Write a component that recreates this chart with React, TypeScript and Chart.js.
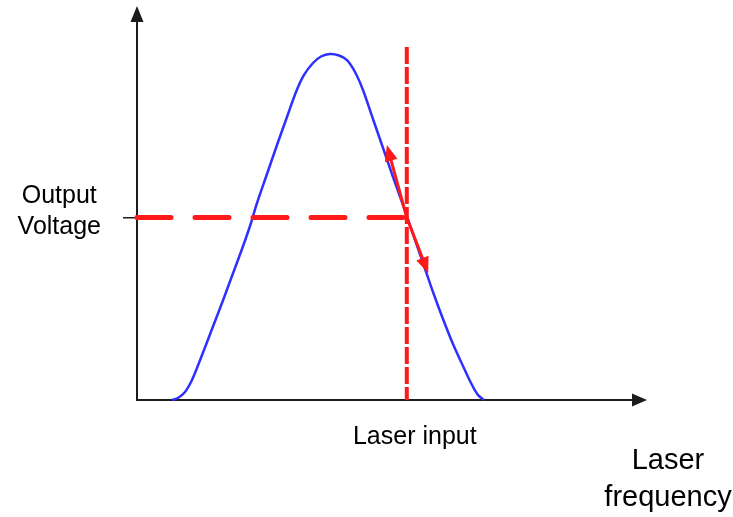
import { useEffect, useRef } from 'react';
import { Chart, registerables } from 'chart.js';

Chart.register(...registerables);

// Transfer curve of the detector: output voltage vs. laser frequency (arbitrary units, 0–100)
const curveX = [
  6.86, 8.04, 9.41, 10.59, 11.76, 13.14, 14.71, 16.67, 18.63, 20.59, 22.16, 23.53, 25.49, 27.45, 29.41,
  31.18, 32.75, 34.51, 36.08, 37.84, 39.61, 41.18, 42.75, 44.31, 46.27, 48.24, 50.2, 52.16, 54.12, 56.08,
  58.04, 60.0, 61.96, 63.92, 65.49, 66.86, 68.04,
];
const curveY = [
  0, 0.51, 2.03, 4.57, 8.12, 12.69, 18.02, 24.62, 31.47, 38.32, 44.16, 50.0, 57.36, 64.72, 71.83,
  78.17, 82.49, 85.53, 87.18, 87.82, 87.44, 86.29, 83.25, 78.68, 71.32, 63.96, 56.6, 49.49, 42.13, 34.77,
  27.41, 20.56, 14.21, 8.63, 4.31, 1.27, 0,
];

// Operating point
const laserInput = 52.9;
const outputVoltage = 46.3;
const markerTop = 89.6;

// Tips of the slope arrows around the operating point
const arrowTipX = [49.0, 57.1];
const arrowTipY = [64.7, 32.2];

const yTickLabel = ['Output', 'Voltage'];
const xTickLabel = 'Laser input';
const xAxisTitle = ['Laser', 'frequency'];

const FONT = "'Liberation Sans', Arial, Helvetica, sans-serif";
const AXIS = '#1c1c1c';
const RED = '#ff1a1a';
const BLUE = '#2f2fff';

const arrowAxes = {
  id: 'arrowAxes',
  beforeDatasetsDraw(chart: any) {
    const { ctx, scales } = chart;
    const x = scales.x;
    const y = scales.y;
    const x0 = x.getPixelForValue(0);
    const y0 = y.getPixelForValue(0);
    const xEnd = x.getPixelForValue(x.max);
    const yEnd = y.getPixelForValue(y.max);
    ctx.save();
    ctx.strokeStyle = AXIS;
    ctx.fillStyle = AXIS;
    ctx.lineWidth = 2;
    ctx.beginPath();
    ctx.moveTo(x0, y0);
    ctx.lineTo(xEnd - 12, y0);
    ctx.moveTo(x0, y0 + 1);
    ctx.lineTo(x0, yEnd + 14);
    ctx.stroke();
    ctx.beginPath();
    ctx.moveTo(xEnd, y0);
    ctx.lineTo(xEnd - 15, y0 - 6.5);
    ctx.lineTo(xEnd - 15, y0 + 6.5);
    ctx.closePath();
    ctx.fill();
    ctx.beginPath();
    ctx.moveTo(x0, yEnd);
    ctx.lineTo(x0 - 6.5, yEnd + 16);
    ctx.lineTo(x0 + 6.5, yEnd + 16);
    ctx.closePath();
    ctx.fill();
    ctx.restore();
  },
  afterDatasetsDraw(chart: any) {
    const { ctx, scales } = chart;
    const x = scales.x;
    const y = scales.y;
    const px = x.getPixelForValue(laserInput);
    const py = y.getPixelForValue(outputVoltage);
    ctx.save();
    ctx.strokeStyle = RED;
    ctx.fillStyle = RED;
    ctx.lineWidth = 3;
    for (let i = 0; i < arrowTipX.length; i++) {
      const tx = x.getPixelForValue(arrowTipX[i]);
      const ty = y.getPixelForValue(arrowTipY[i]);
      const dx = tx - px;
      const dy = ty - py;
      const len = Math.hypot(dx, dy);
      const ux = dx / len;
      const uy = dy / len;
      const head = 16;
      const half = 6.5;
      const bx = tx - ux * head;
      const by = ty - uy * head;
      ctx.beginPath();
      ctx.moveTo(px, py);
      ctx.lineTo(bx + ux * 2, by + uy * 2);
      ctx.stroke();
      ctx.beginPath();
      ctx.moveTo(tx, ty);
      ctx.lineTo(bx - uy * half, by + ux * half);
      ctx.lineTo(bx + uy * half, by - ux * half);
      ctx.closePath();
      ctx.fill();
    }
    ctx.restore();
  },
  afterDraw(chart: any) {
    const { ctx, chartArea } = chart;
    ctx.save();
    ctx.fillStyle = '#000';
    ctx.font = `29px ${FONT}`;
    ctx.textAlign = 'center';
    ctx.textBaseline = 'alphabetic';
    ctx.fillText(xAxisTitle[0], chartArea.right + 21, chartArea.bottom + 69);
    ctx.fillText(xAxisTitle[1], chartArea.right + 21, chartArea.bottom + 106);
    ctx.restore();
  },
};

export default function App() {
  const canvasRef = useRef<HTMLCanvasElement | null>(null);

  useEffect(() => {
    const canvas = canvasRef.current;
    if (!canvas) return;
    const curve = curveX.map((v, i) => ({ x: v, y: curveY[i] }));
    const chart = new Chart(canvas, {
      type: 'line',
      data: {
        datasets: [
          {
            data: [
              { x: laserInput, y: markerTop },
              { x: laserInput, y: 0 },
            ],
            borderColor: RED,
            borderWidth: 4,
            borderDash: [17, 3],
            borderCapStyle: 'butt',
            pointRadius: 0,
            clip: false,
          },
          {
            data: [
              { x: 0, y: outputVoltage },
              { x: laserInput, y: outputVoltage },
            ],
            borderColor: RED,
            borderWidth: 5,
            borderDash: [34, 24],
            borderCapStyle: 'round',
            pointRadius: 0,
            clip: false,
          },
          {
            data: curve,
            borderColor: BLUE,
            borderWidth: 2.5,
            tension: 0.3,
            pointRadius: 0,
            clip: false,
          },
        ],
      },
      options: {
        responsive: false,
        animation: false,
        events: [],
        layout: { padding: { top: 6, right: 86, bottom: 0, left: 0 } },
        plugins: { legend: { display: false }, tooltip: { enabled: false } },
        scales: {
          x: {
            type: 'linear',
            min: 0,
            max: 100,
            border: { display: false },
            grid: { display: false },
            afterBuildTicks: (scale: any) => {
              scale.ticks = [{ value: laserInput }];
            },
            afterFit: (scale: any) => {
              scale.height = 117;
              scale.paddingLeft = 0;
              scale.paddingRight = 0;
            },
            ticks: {
              callback: () => xTickLabel,
              color: '#000',
              font: { family: FONT, size: 25 },
              padding: 14,
              labelOffset: 8,
              maxRotation: 0,
              autoSkip: false,
            },
          },
          y: {
            type: 'linear',
            min: 0,
            max: 100,
            border: { display: false },
            grid: {
              display: true,
              drawOnChartArea: false,
              drawTicks: true,
              tickLength: 14,
              color: AXIS,
              lineWidth: 1.5,
            },
            afterBuildTicks: (scale: any) => {
              scale.ticks = [{ value: outputVoltage }];
            },
            afterFit: (scale: any) => {
              scale.width = 137;
              scale.paddingTop = 0;
              scale.paddingBottom = 0;
            },
            ticks: {
              callback: () => yTickLabel,
              color: '#000',
              font: { family: FONT, size: 25, lineHeight: 1.25 },
              crossAlign: 'center',
              padding: 22,
              labelOffset: -6,
              autoSkip: false,
            },
          },
        },
      },
      plugins: [arrowAxes],
    } as any);
    return () => chart.destroy();
  }, []);

  return (
    <div style={{ position: 'absolute', left: 0, top: 0, width: 733, height: 517, background: '#fff' }}>
      <canvas ref={canvasRef} width={733} height={517} style={{ display: 'block' }} />
    </div>
  );
}
